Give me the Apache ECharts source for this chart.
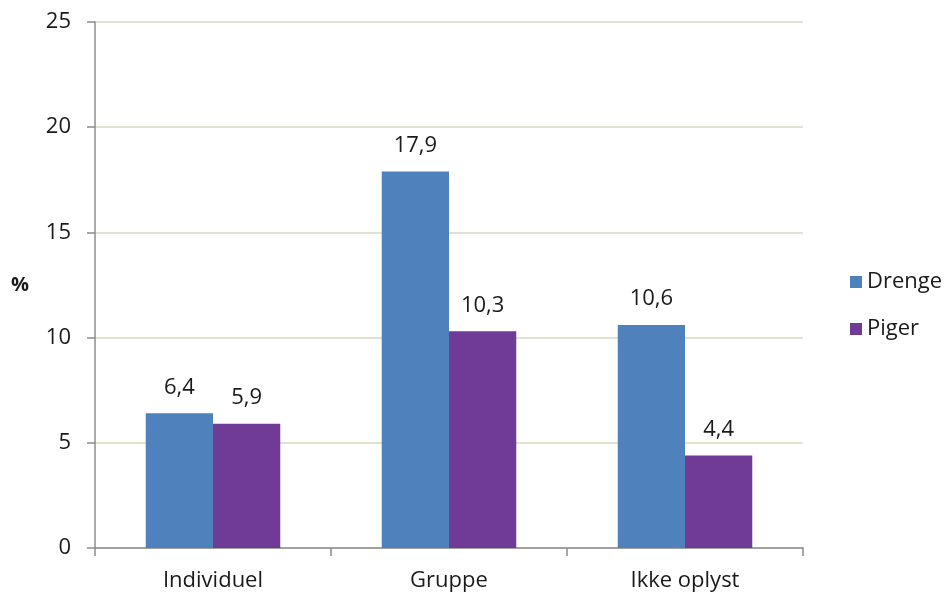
<!DOCTYPE html>
<html>
<head>
<meta charset="utf-8">
<script src="https://cdn.jsdelivr.net/npm/echarts@6/dist/echarts.min.js"></script>
<style>
  html, body { margin: 0; padding: 0; background: #fff; }
  #chart { width: 946px; height: 593px; }
</style>
</head>
<body>
<div id="chart"></div>
<script>
var categories = ['Individuel', 'Gruppe', 'Ikke oplyst'];
var drenge = [6.4, 17.9, 10.6];
var piger = [5.9, 10.3, 4.4];

var font = 'Open Sans';
var chart = echarts.init(document.getElementById('chart'));

function label() {
  return {
    show: true,
    position: 'top',
    distance: 15,
    fontFamily: font,
    fontSize: 22,
    color: '#1a1a1a',
    formatter: function (p) { return String(p.value).replace('.', ','); }
  };
}

chart.setOption({
  animation: false,
  textStyle: { fontFamily: font },
  grid: { left: 95, right: 143, top: 22, bottom: 45 },
  legend: {
    orient: 'vertical',
    left: 845,
    top: 266,
    itemWidth: 12,
    itemHeight: 12,
    itemGap: 25,
    icon: 'rect',
    textStyle: { fontFamily: font, fontSize: 22, color: '#1a1a1a' },
    data: ['Drenge', 'Piger']
  },
  xAxis: {
    type: 'category',
    data: categories,
    axisLine: { lineStyle: { color: '#8c8c8c', width: 1.5 } },
    axisTick: { show: true, length: 8, lineStyle: { color: '#8c8c8c', width: 1.5 } },
    axisLabel: { fontFamily: font, fontSize: 22, color: '#1a1a1a', margin: 22 }
  },
  yAxis: {
    type: 'value',
    min: 0,
    max: 25,
    interval: 5,
    name: '%',
    nameLocation: 'middle',
    nameRotate: 0,
    nameGap: 66,
    nameTextStyle: { fontFamily: font, fontSize: 20, fontWeight: 'bold', color: '#1a1a1a' },
    axisLine: { show: true, lineStyle: { color: '#8c8c8c', width: 1.5 } },
    axisTick: { show: true, length: 8, lineStyle: { color: '#8c8c8c', width: 1.5 } },
    axisLabel: { fontFamily: font, fontSize: 22, color: '#1a1a1a', margin: 24 },
    splitLine: { lineStyle: { color: '#d9d8c2', width: 1.5 } }
  },
  series: [
    {
      name: 'Drenge',
      type: 'bar',
      data: drenge,
      barGap: '0%',
      barCategoryGap: '43%',
      itemStyle: { color: '#4f81bd' },
      label: label()
    },
    {
      name: 'Piger',
      type: 'bar',
      data: piger,
      itemStyle: { color: '#6f3b96' },
      label: label()
    }
  ]
});
</script>
</body>
</html>
